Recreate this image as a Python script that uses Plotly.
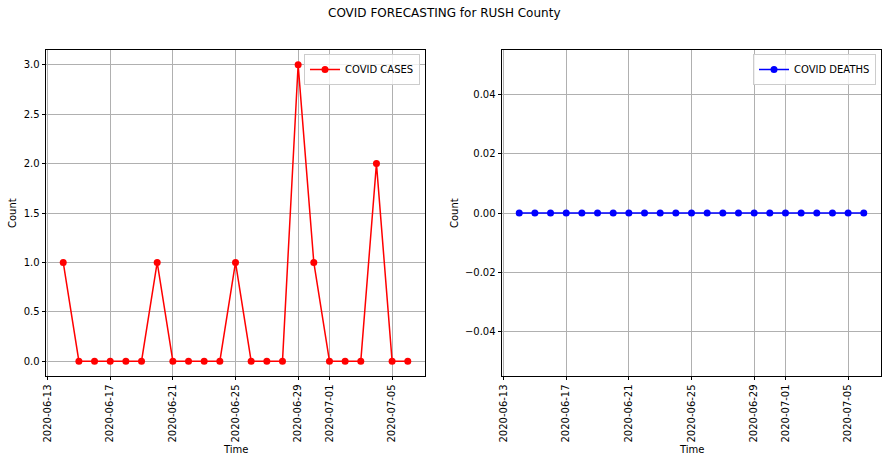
import plotly.graph_objects as go

dates = ["2020-06-14", "2020-06-15", "2020-06-16", "2020-06-17", "2020-06-18", "2020-06-19",
         "2020-06-20", "2020-06-21", "2020-06-22", "2020-06-23", "2020-06-24", "2020-06-25",
         "2020-06-26", "2020-06-27", "2020-06-28", "2020-06-29", "2020-06-30", "2020-07-01",
         "2020-07-02", "2020-07-03", "2020-07-04", "2020-07-05", "2020-07-06"]
cases = [1, 0, 0, 0, 0, 0, 1, 0, 0, 0, 0, 1, 0, 0, 0, 3, 1, 0, 0, 0, 2, 0, 0]
deaths = [0] * 23
tick_dates = ["2020-06-13", "2020-06-17", "2020-06-21", "2020-06-25", "2020-06-29",
              "2020-07-01", "2020-07-05"]

W, H = 888, 462
FONT = "DejaVu Sans"

fig = go.Figure()
fig.add_trace(go.Scatter(x=dates, y=cases, mode="lines+markers", name="COVID CASES",
                         line=dict(color="red", width=1.5),
                         marker=dict(color="red", size=7),
                         xaxis="x", yaxis="y", legend="legend"))
fig.add_trace(go.Scatter(x=dates, y=deaths, mode="lines+markers", name="COVID DEATHS",
                         line=dict(color="blue", width=1.5),
                         marker=dict(color="blue", size=7),
                         xaxis="x2", yaxis="y2", legend="legend2"))

def px(v):
    return v / W

def py(v):
    return 1 - v / H

xdom1 = [px(46), px(425)]
xdom2 = [px(502), px(881)]
ydom = [py(376), py(50)]
xrange_ = ["2020-06-12 21:36", "2020-07-07 02:24"]

common_x = dict(type="date", range=xrange_, tickvals=tick_dates, ticktext=tick_dates,
                tickangle=-90, showgrid=True, gridcolor="#b0b0b0", gridwidth=0.8,
                showline=True, linecolor="black", linewidth=0.8, mirror=True,
                ticks="outside", ticklen=3.5, tickwidth=0.8, tickcolor="black",
                tickfont=dict(family=FONT, size=10, color="black"), zeroline=False)
common_y = dict(showgrid=True, gridcolor="#b0b0b0", gridwidth=0.8,
                showline=True, linecolor="black", linewidth=0.8, mirror=True,
                ticks="outside", ticklen=3.5, tickwidth=0.8, tickcolor="black",
                tickfont=dict(family=FONT, size=10, color="black"), zeroline=False)

fig.update_layout(
    width=W, height=H,
    margin=dict(l=0, r=0, t=0, b=0, autoexpand=False),
    paper_bgcolor="white", plot_bgcolor="white",
    font=dict(family=FONT, size=10, color="black"),
    xaxis=dict(domain=xdom1, anchor="y", **common_x),
    yaxis=dict(domain=ydom, anchor="x", range=[-0.15, 3.15],
               tickvals=[0, 0.5, 1.0, 1.5, 2.0, 2.5, 3.0], tickformat=".1f", **common_y),
    xaxis2=dict(domain=xdom2, anchor="y2", **common_x),
    yaxis2=dict(domain=ydom, anchor="x2", range=[-0.055, 0.055],
                tickvals=[-0.04, -0.02, 0, 0.02, 0.04], tickformat=".2f", **common_y),
    legend=dict(x=px(420), y=py(54), xanchor="right", yanchor="top",
                bgcolor="rgba(255,255,255,0.8)", bordercolor="#cccccc", borderwidth=1,
                font=dict(family=FONT, size=10, color="black"), itemwidth=30,
                tracegroupgap=0),
    legend2=dict(x=px(876), y=py(54), xanchor="right", yanchor="top",
                 bgcolor="rgba(255,255,255,0.8)", bordercolor="#cccccc", borderwidth=1,
                 font=dict(family=FONT, size=10, color="black"), itemwidth=30,
                 tracegroupgap=0),
    showlegend=True,
)

annots = [
    dict(text="COVID FORECASTING for RUSH County", x=0.5, y=py(13), xref="paper", yref="paper",
         showarrow=False, font=dict(family=FONT, size=12, color="black"),
         xanchor="center", yanchor="middle"),
    dict(text="Time", x=(xdom1[0] + xdom1[1]) / 2, y=py(449), xref="paper", yref="paper",
         showarrow=False, font=dict(family=FONT, size=10, color="black"),
         xanchor="center", yanchor="middle"),
    dict(text="Time", x=(xdom2[0] + xdom2[1]) / 2, y=py(449), xref="paper", yref="paper",
         showarrow=False, font=dict(family=FONT, size=10, color="black"),
         xanchor="center", yanchor="middle"),
    dict(text="Count", x=px(12), y=(ydom[0] + ydom[1]) / 2, xref="paper", yref="paper",
         showarrow=False, textangle=-90, font=dict(family=FONT, size=10, color="black"),
         xanchor="center", yanchor="middle"),
    dict(text="Count", x=px(454), y=(ydom[0] + ydom[1]) / 2, xref="paper", yref="paper",
         showarrow=False, textangle=-90, font=dict(family=FONT, size=10, color="black"),
         xanchor="center", yanchor="middle"),
]
fig.update_layout(annotations=annots)

fig.write_html("out.html",
               config={"displayModeBar": False},
               post_script="document.body.style.margin='0';document.body.style.padding='0';")
